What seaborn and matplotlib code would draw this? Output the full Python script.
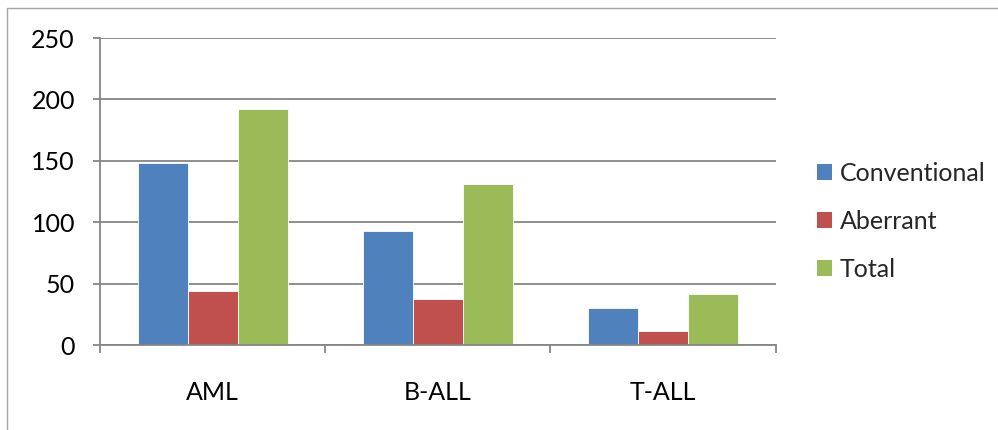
import matplotlib
matplotlib.use("Agg")
import matplotlib.pyplot as plt
import seaborn as sns
import pandas as pd
from matplotlib.patches import Rectangle, Patch
from matplotlib.ticker import FixedLocator

categories = ["AML", "B-ALL", "T-ALL"]
series_names = ["Conventional", "Aberrant", "Total"]
conventional = [148, 93, 30]
aberrant = [44, 38, 12]
total = [192, 131, 42]
yticks = [0, 50, 100, 150, 200, 250]
colors = ["#4F81BD", "#C0504D", "#9BBB59"]

rows = []
for name, vals in zip(series_names, [conventional, aberrant, total]):
    for c, v in zip(categories, vals):
        rows.append({"Group": c, "Count": v, "Type": name})
df = pd.DataFrame(rows)

sns.set_theme(style="white")
plt.rcParams["font.family"] = ["Lato", "DejaVu Sans"]

W, H = 998, 430
fig = plt.figure(figsize=(W / 100, H / 100), dpi=100)
ax = fig.add_axes([100 / W, (H - 345.3) / H, (775.7 - 100) / W, (345.3 - 38) / H])

sns.barplot(data=df, x="Group", y="Count", hue="Type", palette=colors,
            order=categories, hue_order=series_names, width=2 / 3, gap=0,
            saturation=1, edgecolor="white", linewidth=0.6, ax=ax,
            legend=False, zorder=3)

grid_c = "#868686"
ax.set_xlim(-0.5, 2.5)
ax.set_ylim(0, 250)
ax.set_yticks(yticks)
ax.yaxis.grid(True, color=grid_c, linewidth=1.3, zorder=0)
ax.set_axisbelow(True)
for s in ["top", "right"]:
    ax.spines[s].set_visible(False)
for s in ["left", "bottom"]:
    ax.spines[s].set_color(grid_c)
    ax.spines[s].set_linewidth(1.3)
    ax.spines[s].set_zorder(4)

ax.set_xlabel("")
ax.set_ylabel("")
ax.set_xticks([0, 1, 2])
ax.set_xticklabels(categories)
ax.xaxis.set_minor_locator(FixedLocator([-0.5, 0.5, 1.5, 2.5]))
ax.tick_params(axis="x", which="major", length=0, pad=26, labelsize=18, colors="black")
ax.tick_params(axis="x", which="minor", length=6, width=1.3, color=grid_c, bottom=True)
ax.tick_params(axis="y", length=5, width=1.3, color=grid_c, pad=13, labelsize=18,
               left=True, labelcolor="black")

handles = [Patch(facecolor=c, edgecolor="none") for c in colors]
fig.legend(handles, series_names, loc="upper left",
           bbox_to_anchor=(817 / W, 1 - 162 / H), frameon=False, fontsize=18,
           handlelength=0.6, handleheight=0.6, handletextpad=0.3,
           labelspacing=1.0, borderaxespad=0, borderpad=0)

fig.patches.append(Rectangle((7 / W, -0.1), 1.2, 1 - 8 / H + 0.1,
                             transform=fig.transFigure, fill=False,
                             edgecolor="#a6a6a6", linewidth=1.0))

fig.savefig("out.png", dpi=100)
